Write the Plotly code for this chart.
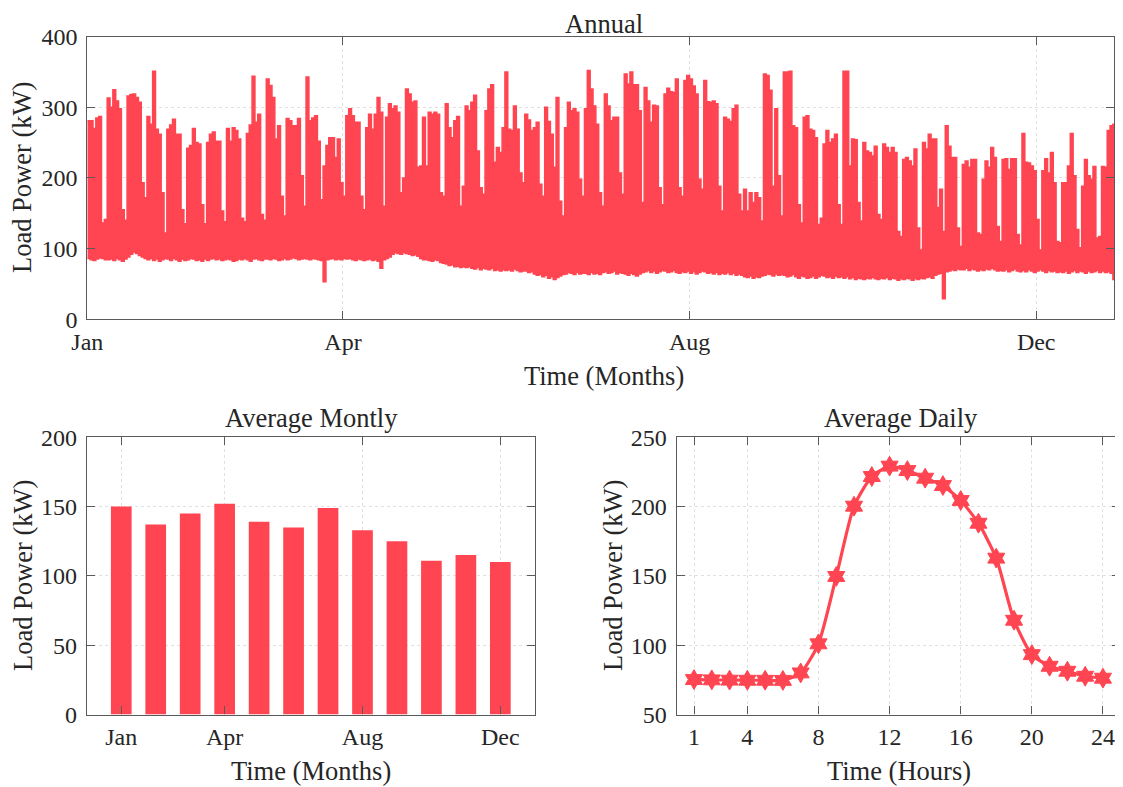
import plotly.graph_objects as go

# ---------------- data ----------------
# Annual: daily peak load (kW), one row per week (Jan 1 .. Dec 31)
daily_peak_kw = [
    281, 281, 270, 285, 287, 136, 141,
    313, 300, 325, 309, 298, 155, 140,
    316, 318, 319, 314, 307, 193, 172,
    287, 276, 351, 269, 262, 179, 122,
    269, 275, 283, 262, 262, 155, 135,
    242, 246, 270, 250, 248, 162, 135,
    250, 262, 265, 252, 252, 153, 138,
    270, 252, 271, 267, 255, 143, 138,
    263, 275, 344, 279, 290, 148, 140,
    340, 331, 314, 255, 274, 174, 146,
    284, 281, 274, 274, 284, 203, 160,
    343, 281, 285, 288, 252, 169, 217,
    246, 257, 257, 229, 255, 193, 174,
    288, 298, 288, 279, 279, 174, 155,
    271, 290, 269, 290, 314, 293, 160,
    286, 305, 298, 302, 293, 179, 200,
    326, 319, 307, 309, 215, 217, 286,
    217, 293, 290, 293, 290, 179, 174,
    305, 271, 257, 281, 287, 160, 188,
    302, 295, 307, 317, 238, 186, 177,
    295, 326, 332, 222, 243, 236, 271,
    350, 269, 267, 302, 269, 207, 193,
    290, 282, 267, 271, 279, 191, 174,
    300, 280, 262, 215, 314, 167, 146,
    271, 307, 295, 298, 293, 198, 174,
    298, 352, 326, 302, 276, 179, 160,
    319, 302, 281, 286, 286, 207, 177,
    347, 333, 350, 332, 332, 295, 165,
    328, 309, 279, 303, 302, 186, 162,
    319, 327, 322, 321, 340, 186, 174,
    338, 345, 340, 330, 319, 198, 184,
    338, 308, 307, 309, 305, 188, 153,
    286, 283, 280, 298, 303, 177, 153,
    184, 153, 179, 165, 179, 172, 139,
    347, 345, 324, 188, 298, 203, 146,
    350, 350, 351, 274, 271, 162, 136,
    286, 288, 269, 267, 257, 134, 143,
    248, 267, 250, 255, 262, 162, 134,
    351, 351, 217, 255, 254, 165, 139,
    250, 238, 236, 231, 245, 148, 141,
    248, 243, 236, 243, 236, 124, 117,
    226, 229, 224, 217, 241, 129, 98,
    250, 241, 262, 255, 255, 158, 184,
    124, 274, 245, 229, 229, 129, 103,
    219, 224, 215, 226, 226, 122, 120,
    198, 224, 215, 243, 229, 131, 110,
    226, 227, 212, 227, 227, 120, 105,
    263, 222, 221, 217, 210, 141, 98,
    210, 227, 207, 236, 193, 110, 108,
    193, 193, 217, 263, 203, 127, 101,
    188, 226, 203, 198, 216, 115, 117,
    216, 215, 267, 274, 276, 203, 150,
    219,
]

# Annual: daily minimum load (kW)
daily_min_kw = [
    86, 84, 83, 85, 87, 86, 84,
    84, 85, 83, 86, 84, 82, 85,
    88, 92, 95, 93, 90, 88, 86,
    84, 86, 83, 85, 82, 84, 86,
    85, 83, 86, 84, 82, 85, 83,
    84, 86, 85, 83, 84, 82, 85,
    83, 85, 86, 84, 85, 83, 84,
    85, 84, 82, 83, 85, 84, 86,
    84, 82, 85, 86, 84, 83, 85,
    85, 84, 86, 85, 83, 84, 86,
    84, 85, 87, 86, 84, 85, 86,
    85, 84, 86, 85, 84, 83, 53,
    84, 85, 86, 84, 85, 84, 86,
    85, 86, 84, 83, 85, 84, 83,
    84, 85, 83, 84, 82, 72, 84,
    86, 88, 92, 94, 93, 92, 94,
    93, 92, 90, 91, 89, 86, 84,
    84, 83, 82, 84, 83, 80, 79,
    78, 76, 77, 74, 75, 73, 74,
    73, 74, 72, 71, 73, 70, 72,
    71, 70, 72, 69, 70, 68, 70,
    69, 70, 68, 71, 69, 67, 68,
    68, 66, 67, 64, 62, 63, 60,
    62, 58, 60, 56, 59, 61, 63,
    64, 66, 65, 63, 66, 64, 65,
    65, 63, 66, 64, 65, 63, 66,
    67, 65, 66, 68, 64, 66, 65,
    64, 62, 65, 63, 61, 64, 66,
    67, 69, 66, 68, 65, 67, 69,
    68, 66, 67, 69, 66, 65, 67,
    66, 68, 65, 67, 64, 66, 68,
    67, 65, 66, 64, 66, 63, 65,
    64, 66, 63, 65, 62, 64, 62,
    60, 59, 61, 58, 60, 59, 61,
    62, 64, 63, 61, 64, 62, 63,
    62, 60, 61, 63, 60, 58, 61,
    60, 58, 59, 61, 58, 60, 62,
    61, 59, 60, 58, 61, 59, 60,
    58, 60, 57, 59, 56, 58, 57,
    56, 58, 57, 59, 57, 56, 58,
    57, 59, 56, 58, 57, 55, 57,
    56, 58, 57, 55, 57, 56, 58,
    57, 59, 60, 58, 62, 64, 65,
    29, 67, 68, 70, 69, 71, 70,
    70, 72, 69, 71, 70, 68, 70,
    69, 71, 70, 72, 70, 68, 69,
    68, 70, 67, 69, 71, 68, 67,
    69, 67, 70, 68, 66, 68, 70,
    68, 66, 69, 67, 68, 66, 67,
    66, 68, 65, 67, 69, 66, 68,
    67, 65, 68, 66, 67, 69, 66,
    68, 66, 67, 65, 56, 66, 68,
    67,
]
day_index = list(range(len(daily_peak_kw)))
annual_tick_days = [0, 90, 212, 334]
annual_tick_text = ["Jan", "Apr", "Aug", "Dec"]

# Average monthly
months = list(range(1, 13))
monthly_avg_kw = [150, 137, 145, 152, 139, 135, 149, 133, 125, 111, 115, 110]
monthly_tick_vals = [1, 4, 8, 12]
monthly_tick_text = ["Jan", "Apr", "Aug", "Dec"]

# Average daily profile
hours = list(range(1, 25))
hourly_avg_kw = [75.2, 75.0, 74.8, 74.7, 74.7, 74.6, 80.0, 101.0, 149.6, 200.3,
                 221.7, 229.2, 226.0, 220.5, 215.2, 204.4, 188.0, 162.8, 118.0,
                 93.2, 84.8, 81.2, 77.6, 76.2]
hour_tick_vals = [1, 4, 8, 12, 16, 20, 24]

# ---------------- style ----------------
W, H = 1123, 787
OFF = 8  # the page body margin shifts the figure by this many pixels
RED = "#FF4551"
AX = "#5a5a5a"
TXT = "#262626"
GRID = "#e0e0e0"
FONT = "Liberation Serif"
TICK_SIZE = 24
TITLE_SIZE = 26.5


def px_x(p):
    return (p - OFF) / W


def px_y(p):
    return 1 - (p - OFF) / H


fig = go.Figure()

# Annual band: daily minimum (lower edge) and daily peak (upper edge, filled)
fig.add_trace(go.Scatter(x=day_index, y=daily_min_kw, mode="lines",
                         line=dict(color=RED, width=1.5, shape="hv"),
                         xaxis="x", yaxis="y", showlegend=False, hoverinfo="skip"))
fig.add_trace(go.Scatter(x=day_index, y=daily_peak_kw, mode="lines",
                         line=dict(color=RED, width=1.5, shape="hv"),
                         fill="tonexty", fillcolor=RED,
                         xaxis="x", yaxis="y", showlegend=False))

# Monthly bars
fig.add_trace(go.Bar(x=months, y=monthly_avg_kw, width=0.6,
                     marker=dict(color=RED, line=dict(width=0)),
                     xaxis="x2", yaxis="y2", showlegend=False))

# Daily profile
fig.add_trace(go.Scatter(x=hours, y=hourly_avg_kw, mode="lines+markers",
                         line=dict(color=RED, width=3.2, shape="spline", smoothing=0.6),
                         marker=dict(symbol="hexagram", size=15, color=RED,
                                     line=dict(color=RED, width=1)),
                         xaxis="x3", yaxis="y3", showlegend=False))

common = dict(
    showline=True, linecolor=AX, linewidth=1.2, mirror="ticks",
    ticks="inside", ticklen=8, tickwidth=1.2, tickcolor=AX,
    showgrid=True, gridcolor=GRID, griddash="dot", gridwidth=1,
    zeroline=False, automargin=False,
    tickfont=dict(family=FONT, size=TICK_SIZE, color=TXT),
)

top_y = [px_y(319.1), px_y(36.7)]
bot_y = [px_y(714.5), px_y(437.3)]

# annual axis: 2.841 px per day from x=87.3; visible page ends near x=1115
annual_right_px = 1114.0
annual_end_day = (annual_right_px - 87.3) / 2.841
# daily axis: hour 1 at x=694, 17.78 px per hour
hour_left_px, hour_right_px = 676.7, 1120.0
hour0_px, px_per_hour = 694.0 - 17.78, 17.78

fig.update_layout(
    width=W, height=H,
    margin=dict(l=0, r=0, t=0, b=0, autoexpand=False),
    paper_bgcolor="white", plot_bgcolor="white",
    font=dict(family=FONT, color=TXT),
    xaxis=dict(domain=[px_x(87.3), px_x(annual_right_px)], range=[0, annual_end_day],
               tickmode="array", tickvals=annual_tick_days, ticktext=annual_tick_text,
               anchor="y", ticklabelstandoff=1, **common),
    yaxis=dict(domain=top_y, range=[0, 400], tickvals=[0, 100, 200, 300, 400],
               anchor="x", ticklabelstandoff=4, **common),
    xaxis2=dict(domain=[px_x(86.8), px_x(534.8)], range=[0, 13],
                tickmode="array", tickvals=monthly_tick_vals, ticktext=monthly_tick_text,
                anchor="y2", ticklabelstandoff=1, **common),
    yaxis2=dict(domain=bot_y, range=[0, 200], tickvals=[0, 50, 100, 150, 200],
                anchor="x2", ticklabelstandoff=4, **common),
    xaxis3=dict(domain=[px_x(hour_left_px), px_x(hour_right_px)],
                range=[(hour_left_px - hour0_px) / px_per_hour,
                       (hour_right_px - hour0_px) / px_per_hour],
                tickmode="array", tickvals=hour_tick_vals,
                anchor="y3", ticklabelstandoff=1, **common),
    yaxis3=dict(domain=bot_y, range=[50, 250], tickvals=[50, 100, 150, 200, 250],
                anchor="x3", ticklabelstandoff=4, **common),
)


def label(text, x, y, angle=0):
    fig.add_annotation(text=text, x=px_x(x), y=px_y(y), xref="paper", yref="paper",
                       showarrow=False, textangle=angle, xanchor="center", yanchor="middle",
                       font=dict(family=FONT, size=TITLE_SIZE, color=TXT))


# top title anchored to the top of the page so that it is not clipped
fig.add_annotation(text="Annual", x=px_x(604), y=1.0, xref="paper", yref="paper",
                   showarrow=False, xanchor="center", yanchor="top", borderpad=0,
                   font=dict(family=FONT, size=TITLE_SIZE, color=TXT))
label("Time (Months)", 604, 376)
label("Load Power (kW)", 22, 178, -90)
label("Average Montly", 311, 418)
label("Time (Months)", 311, 771)
label("Load Power (kW)", 23, 576, -90)
label("Average Daily", 901, 418)
label("Time (Hours)", 899, 771)
label("Load Power (kW)", 613, 576, -90)

fig.write_html("out.html")
